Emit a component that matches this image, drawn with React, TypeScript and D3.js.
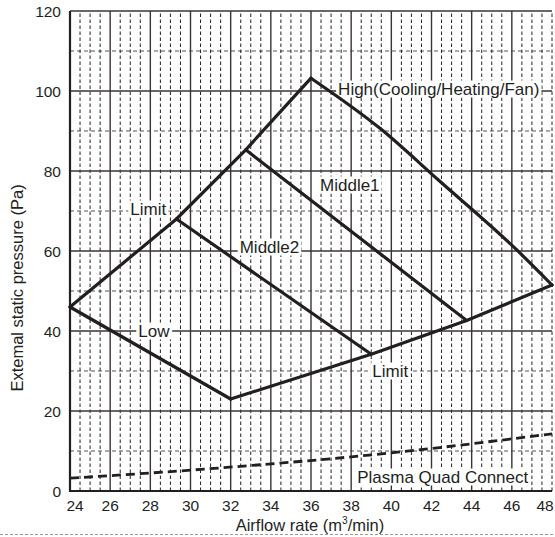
import React, { useEffect, useRef } from "react";
import * as d3 from "d3";

const xTicks = [24, 26, 28, 30, 32, 34, 36, 38, 40, 42, 44, 46, 48];
const yTicks = [0, 20, 40, 60, 80, 100, 120];

// envelope: upper-left limit, High curve, lower limit
const upperLimit: [number, number][] = [[24, 46], [29.3, 68], [32.75, 85.3], [36, 103.2]];
const highLine: [number, number][] = [[36, 103.2], [39.45, 90.6], [42.33, 77.8], [46.26, 60.2], [48, 51.5]];
const lowLine: [number, number][] = [[24, 46], [32, 23]];
const lowerLimit: [number, number][] = [[32, 23], [39, 34.2], [43.75, 42.6], [48, 51.5]];
const middle1: [number, number][] = [[32.75, 85.3], [43.75, 42.6]];
const middle2: [number, number][] = [[29.3, 68], [39, 34.2]];
const plasma: [number, number][] = [[24, 3.2], [30.5, 5.4], [40.5, 9.8], [48, 14.3]];

const labels: { text: string; x: number; y: number }[] = [
  { text: "High(Cooling/Heating/Fan)", x: 37.35, y: 100.5 },
  { text: "Middle1", x: 36.45, y: 76.5 },
  { text: "Middle2", x: 32.45, y: 61 },
  { text: "Limit", x: 27.0, y: 70.5 },
  { text: "Low", x: 27.4, y: 40 },
  { text: "Limit", x: 39.05, y: 30 },
  { text: "Plasma Quad Connect", x: 38.3, y: 3.5 },
];

const FONT = "'Liberation Sans', Arial, Helvetica, sans-serif";
const INK = "#231f1e";

export default function App() {
  const ref = useRef<SVGSVGElement | null>(null);

  useEffect(() => {
    const svg = d3.select(ref.current);
    svg.selectAll("*").remove();
    const x = d3.scaleLinear().domain([24, 48]).range([70, 552]);
    const y = d3.scaleLinear().domain([0, 120]).range([491, 11]);

    const g = svg.append("g");

    // horizontal minor dashed grid
    const hMinor = d3.range(10, 120, 20);
    g.selectAll("line.hmin").data(hMinor).enter().append("line")
      .attr("x1", x(24)).attr("x2", x(48))
      .attr("y1", (d) => y(d)).attr("y2", (d) => y(d))
      .attr("stroke", "#555").attr("stroke-width", 1).attr("stroke-dasharray", "4,3");

    // vertical minor dashed grid
    const vMinor = d3.range(24.5, 48.01, 0.5).filter((v) => Math.abs(v / 2 - Math.round(v / 2)) > 1e-6 || v === 48);
    g.selectAll("line.vmin").data(vMinor).enter().append("line")
      .attr("x1", (d) => x(d)).attr("x2", (d) => x(d))
      .attr("y1", y(0)).attr("y2", y(120))
      .attr("stroke", "#222").attr("stroke-width", 1).attr("stroke-dasharray", "3.5,2.5");

    // horizontal major solid grid
    g.selectAll("line.hmaj").data(yTicks.filter((v) => v > 0)).enter().append("line")
      .attr("x1", x(24)).attr("x2", x(48))
      .attr("y1", (d) => y(d)).attr("y2", (d) => y(d))
      .attr("stroke", "#3a3433").attr("stroke-width", 1.4);

    // vertical major solid grid
    g.selectAll("line.vmaj").data(xTicks.filter((v) => v > 24 && v < 48)).enter().append("line")
      .attr("x1", (d) => x(d)).attr("x2", (d) => x(d))
      .attr("y1", y(0)).attr("y2", y(120))
      .attr("stroke", "#3a3433").attr("stroke-width", 1.4);

    // axes
    g.append("line").attr("x1", x(24)).attr("x2", x(24)).attr("y1", y(0) + 1).attr("y2", y(120))
      .attr("stroke", INK).attr("stroke-width", 2.2);
    g.append("line").attr("x1", x(24) - 1).attr("x2", x(48)).attr("y1", y(0)).attr("y2", y(0))
      .attr("stroke", INK).attr("stroke-width", 2.2);

    // labels with white backgrounds (drawn before curves)
    const lg = svg.append("g");
    labels.forEach((l) => {
      const t = lg.append("text")
        .attr("x", x(l.x)).attr("y", y(l.y))
        .attr("dominant-baseline", "central")
        .attr("font-family", FONT).attr("font-size", 17).attr("fill", INK)
        .text(l.text);
      const bb = (t.node() as SVGTextElement).getBBox();
      lg.insert("rect", () => t.node() as any)
        .attr("x", bb.x - 2).attr("y", bb.y + 1).attr("width", bb.width + 4).attr("height", bb.height - 2)
        .attr("fill", "#fff");
    });

    const line = d3.line<[number, number]>().x((d) => x(d[0])).y((d) => y(d[1]));
    const smooth = d3.line<[number, number]>().x((d) => x(d[0])).y((d) => y(d[1])).curve(d3.curveMonotoneX);
    const curves = [upperLimit, lowLine, lowerLimit, middle1, middle2];
    const cg = svg.append("g");
    curves.forEach((c) => {
      cg.append("path").attr("d", line(c)).attr("fill", "none")
        .attr("stroke", INK).attr("stroke-width", 3.2).attr("stroke-linejoin", "miter").attr("stroke-linecap", "round");
    });
    cg.append("path").attr("d", smooth(highLine)).attr("fill", "none")
      .attr("stroke", INK).attr("stroke-width", 3.2).attr("stroke-linecap", "round");
    cg.append("path").attr("d", smooth(plasma)).attr("fill", "none")
      .attr("stroke", INK).attr("stroke-width", 2.8).attr("stroke-dasharray", "9,5");

    // tick labels
    const tg = svg.append("g").attr("font-family", FONT).attr("font-size", 15.5).attr("fill", INK);
    tg.selectAll("text.yt").data(yTicks).enter().append("text")
      .attr("x", 61).attr("y", (d) => y(d)).attr("text-anchor", "end").attr("dominant-baseline", "central")
      .text((d) => String(d));
    tg.selectAll("text.xt").data(xTicks).enter().append("text")
      .attr("x", (d) => x(d) + (d === 24 ? 5 : d === 48 ? -7 : 0)).attr("y", 505)
      .attr("text-anchor", "middle").attr("dominant-baseline", "central")
      .text((d) => String(d));

    // axis titles
    const xt = svg.append("text").attr("x", 310).attr("y", 525)
      .attr("text-anchor", "middle").attr("dominant-baseline", "central")
      .attr("font-family", FONT).attr("font-size", 16.5).attr("fill", INK);
    xt.append("tspan").text("Airflow rate (m");
    xt.append("tspan").attr("font-size", 10).attr("dy", -5).text("3");
    xt.append("tspan").attr("dy", 5).text("/min)");

    svg.append("text").attr("transform", "translate(17,288) rotate(-90)")
      .attr("text-anchor", "middle").attr("dominant-baseline", "central")
      .attr("font-family", FONT).attr("font-size", 16.5).attr("fill", INK)
      .text("Extemal static pressure (Pa)");

    // bottom separator
    svg.append("line").attr("x1", 0).attr("x2", 555).attr("y1", 534.5).attr("y2", 534.5)
      .attr("stroke", "#999").attr("stroke-width", 1).attr("stroke-dasharray", "3,2");
  }, []);

  return (
    <svg ref={ref} width={555} height={537}
      style={{ position: "absolute", left: 0, top: 0, background: "#fff" }} />
  );
}
